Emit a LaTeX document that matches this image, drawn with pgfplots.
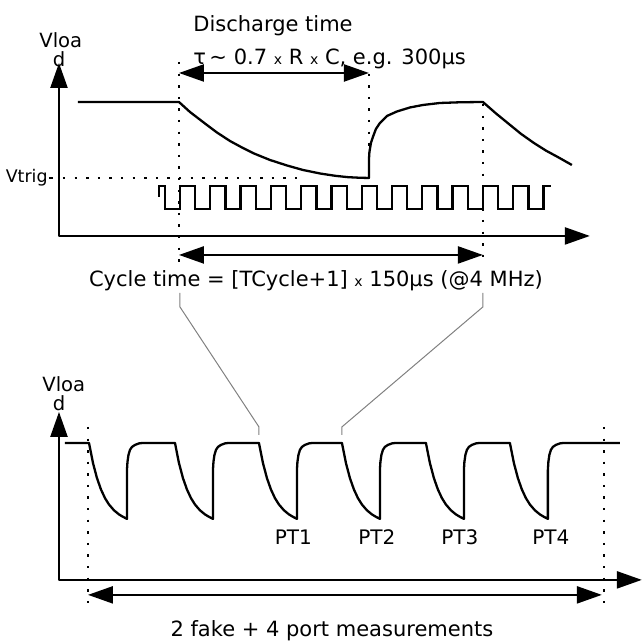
\documentclass[border=0pt]{standalone}
\usepackage{pgfplots}
\pgfplotsset{compat=1.18}
\usetikzlibrary{arrows.meta}
\usepackage{fontspec}
\setmainfont{DejaVu Sans}
\newcommand{\sx}{{\fontsize{7}{8}\selectfont x}}
\begin{document}
\begin{tikzpicture}[>={Triangle[length=12.5pt,width=8.5pt]},
  dt/.style={line width=1.1pt, dash pattern=on 1.2pt off 4.6pt},
  sl/.style={line width=1.15pt, black, line join=round},
  tx/.style={inner sep=0pt, font=\fontsize{10.5}{12}\selectfont},
  lb/.style={inner sep=0pt, font=\fontsize{9.8}{11}\selectfont}]
\begin{axis}[
  width=321pt, height=321.5pt, scale only axis,
  xmin=0, xmax=642, ymin=0, ymax=643, y dir=reverse,
  hide axis, clip=false]
\addplot[draw=none] coordinates {(0,0) (642,643)};
% ---------- upper panel ----------
\addplot[sl, <->] coordinates {(59,63) (59,236) (590,236)};
\addplot[sl] coordinates {(78,102) (179,102)
 (190,112) (205,123.5) (217,132.5) (230,141) (242,147.5) (254,153.5) (270,160)
 (287,165.5) (303,170) (320,173.5) (335,175.8) (348,177.2) (360,177.8) (369,178)
 (369,160) (369.5,152) (371,143) (373,137) (376,129) (380,123) (387,116)
 (397,111.5) (410,107.5) (423,105) (440,103) (460,102.3) (483,102)
 (496,113.4) (509,124) (521,133.8) (534,143) (546,150.6) (558,157.1) (572,165)};
\addplot[sl, line join=miter] coordinates {(159,197)(159,186)(165,186)(165,209)(180,209)(180,186)
(195.3,186)(195.3,209)(210.3,209)(210.3,186)
(225.6,186)(225.6,209)(240.6,209)(240.6,186)
(255.9,186)(255.9,209)(270.9,209)(270.9,186)
(286.2,186)(286.2,209)(301.2,209)(301.2,186)
(316.5,186)(316.5,209)(331.5,209)(331.5,186)
(346.8,186)(346.8,209)(361.8,209)(361.8,186)
(377.1,186)(377.1,209)(392.1,209)(392.1,186)
(407.4,186)(407.4,209)(422.4,209)(422.4,186)
(437.7,186)(437.7,209)(452.7,209)(452.7,186)
(468.0,186)(468.0,209)(483.0,209)(483.0,186)
(498.3,186)(498.3,209)(513.3,209)(513.3,186)
(528.6,186)(528.6,209)(543.6,209)(543.6,186)(551,186)};
\addplot[dt] coordinates {(179,62) (179,262)};
\addplot[dt] coordinates {(369,62) (369,178)};
\addplot[dt] coordinates {(483,104) (483,262)};
\addplot[dt] coordinates {(63,178) (300,178)};
\addplot[sl] coordinates {(49,178) (53,178)};
\addplot[sl, <->] coordinates {(179,73) (369,73)};
\addplot[sl, <->] coordinates {(179,255) (483,255)};
\node[lb, anchor=base west] at (axis cs:39,48) {Vloa};
\node[lb, anchor=base] at (axis cs:59,67) {d};
\node[inner sep=0pt, anchor=base east, font=\fontsize{8.7}{10}\selectfont] at (axis cs:48,183) {Vtrig};
\node[tx, anchor=base west] at (axis cs:193,32) {Discharge time};
\node[tx, anchor=base west] at (axis cs:193,65) {τ\,{\char"007E} 0.7 \sx{} R \sx{} C, e.g. 300µs};
\node[tx, anchor=base] at (axis cs:316,287) {Cycle time = [TCycle+1] \sx{} 150µs (@4 MHz)};
% ---------- connectors ----------
\addplot[gray, line width=0.5pt] coordinates {(180,293) (180,307) (259,427) (259,435)};
\addplot[gray, line width=0.5pt] coordinates {(483,293) (483,307) (342,427) (342,435)};
% ---------- lower panel ----------
\addplot[sl, <->] coordinates {(59,412) (59,580) (642,580)};
\addplot[sl] coordinates {(65,443) (89,443)
(93,463.1)(97,478.2)(101,489.6)(105,498.2)(109,504.6)(114,510.4)(119,514.5)(123,516.9)(127,519)
(127,470)(127.5,462)(128.5,455)(130,450)(132,447)(135,445)(139,443.5)(143,443)
(175,443)(179,463.1)(183,478.2)(187,489.6)(191,498.2)(195,504.6)(200,510.4)(205,514.5)(209,516.9)(213,519)
(213,470)(213.5,462)(214.5,455)(216,450)(218,447)(221,445)(225,443.5)(229,443)
(259,443)(263,463.1)(267,478.2)(271,489.6)(275,498.2)(279,504.6)(284,510.4)(289,514.5)(293,516.9)(297,519)
(297,470)(297.5,462)(298.5,455)(300,450)(302,447)(305,445)(309,443.5)(313,443)
(342,443)(346,463.1)(350,478.2)(354,489.6)(358,498.2)(362,504.6)(367,510.4)(372,514.5)(376,516.9)(380,519)
(380,470)(380.5,462)(381.5,455)(383,450)(385,447)(388,445)(392,443.5)(396,443)
(426,443)(430,463.1)(434,478.2)(438,489.6)(442,498.2)(446,504.6)(451,510.4)(456,514.5)(460,516.9)(464,519)
(464,470)(464.5,462)(465.5,455)(467,450)(469,447)(472,445)(476,443.5)(480,443)
(510,443)(514,463.1)(518,478.2)(522,489.6)(526,498.2)(530,504.6)(535,510.4)(540,514.5)(544,516.9)(548,519)
(548,470)(548.5,462)(549.5,455)(551,450)(553,447)(556,445)(560,443.5)(564,443)(620,443)};
\addplot[dt] coordinates {(88,427) (88,603)};
\addplot[dt] coordinates {(604,427) (604,603)};
\addplot[sl, <->] coordinates {(88,595) (602,595)};
\node[lb, anchor=base west] at (axis cs:42,392) {Vloa};
\node[lb, anchor=base] at (axis cs:59,411) {d};
\node[inner sep=0pt, anchor=base, font=\fontsize{10}{12}\selectfont] at (axis cs:293.5,545) {PT1};
\node[inner sep=0pt, anchor=base, font=\fontsize{10}{12}\selectfont] at (axis cs:377,545) {PT2};
\node[inner sep=0pt, anchor=base, font=\fontsize{10}{12}\selectfont] at (axis cs:460,545) {PT3};
\node[inner sep=0pt, anchor=base, font=\fontsize{10}{12}\selectfont] at (axis cs:551,545) {PT4};
\node[tx, anchor=base] at (axis cs:332,637) {2 fake + 4 port measurements};
\end{axis}
\end{tikzpicture}
\end{document}
